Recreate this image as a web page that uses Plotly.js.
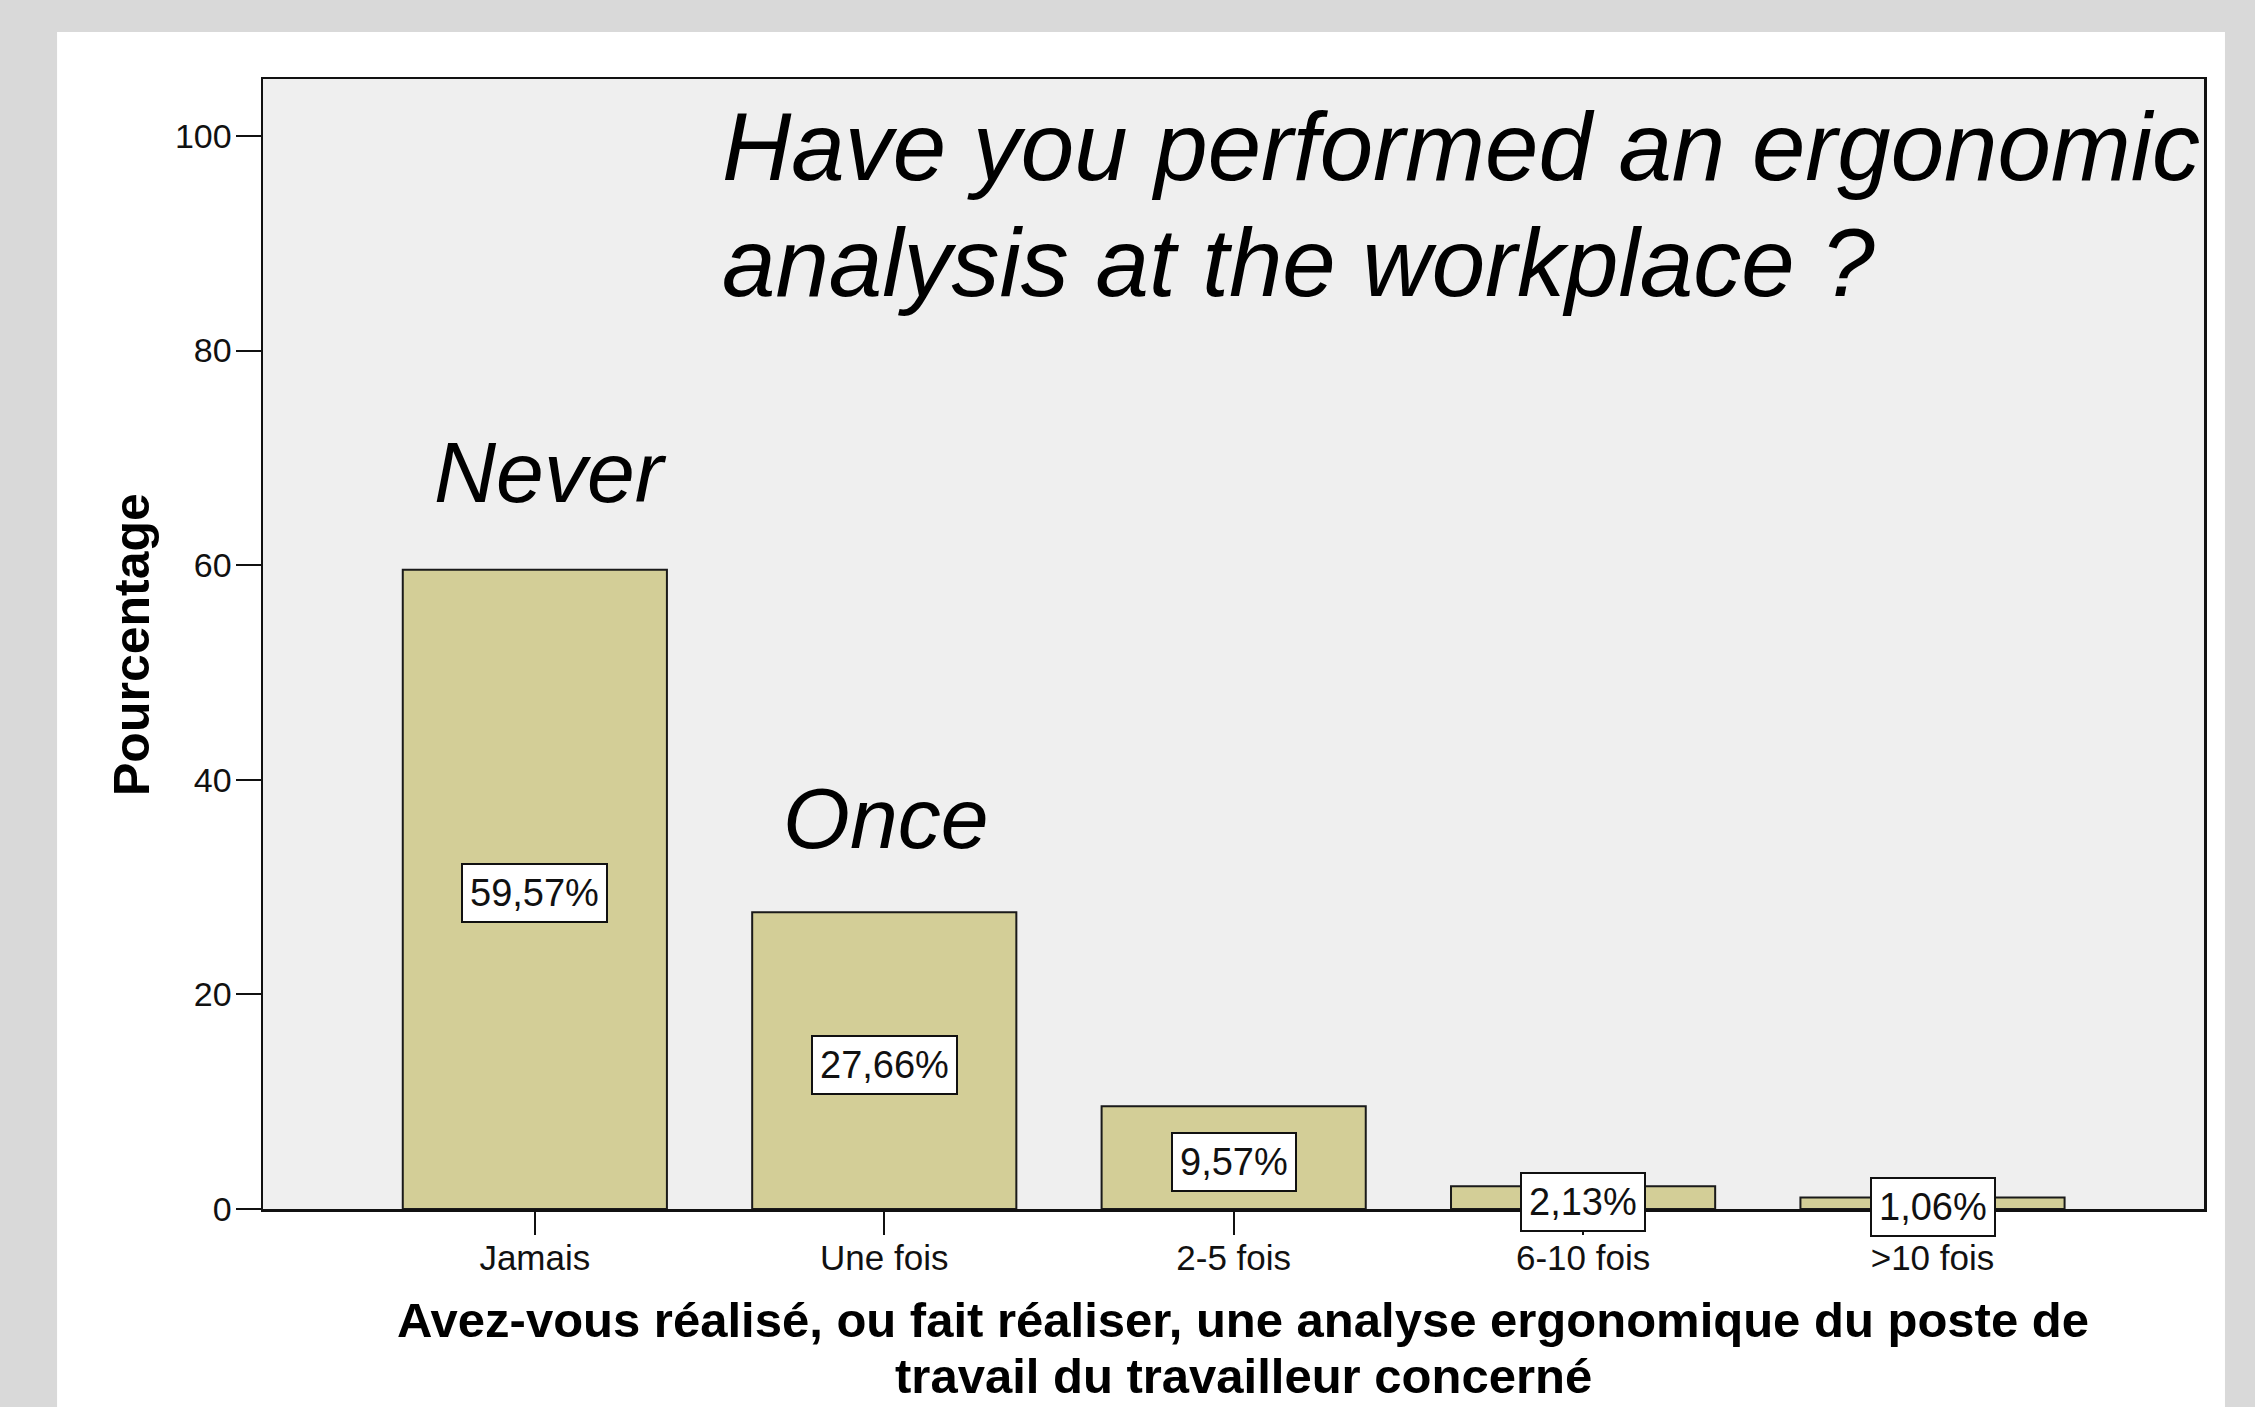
<!DOCTYPE html>
<html>
<head>
<meta charset="utf-8">
<script src="https://cdn.plot.ly/plotly-3.0.1.min.js"></script>
<style>
  html, body { margin: 0; padding: 0; background: #d9d9d9; }
  #chart { width: 2255px; height: 1407px; }
</style>
</head>
<body>
<div id="chart"></div>
<script>
// ---- data ----
const categories = ["Jamais", "Une fois", "2-5 fois", "6-10 fois", ">10 fois"];
const percentages = [59.57, 27.66, 9.57, 2.13, 1.06];
const yTickValues = [0, 20, 40, 60, 80, 100];
const titleLines = ["Have you performed an ergonomic", "analysis at the workplace ?"];
const callouts = ["Never", "Once"];
const xTitleLines = ["Avez-vous réalisé, ou fait réaliser, une analyse ergonomique du poste de",
                     "travail du travailleur concerné"];
const yTitle = "Pourcentage";

const FONT = '"Liberation Sans", Arial, Helvetica, sans-serif';

const valueLabels = percentages.map((v, i) => ({
  x: categories[i], y: v / 2, xref: 'x', yref: 'y', yshift: -4,
  text: v.toFixed(2).replace('.', ',') + '%',
  showarrow: false,
  bgcolor: '#ffffff', bordercolor: '#111111', borderwidth: 2, borderpad: 7,
  font: { family: FONT, size: 38, color: '#111111' }
}));

const textAnnotations = [
  { text: titleLines[0], x: 0.2354, y: 0.9403, xanchor: 'left', yanchor: 'middle',
    font: { family: FONT, size: 96, style: 'italic', color: '#000' } },
  { text: titleLines[1], x: 0.2354, y: 0.8376, xanchor: 'left', yanchor: 'middle',
    font: { family: FONT, size: 96, style: 'italic', color: '#000' } },
  { text: callouts[0], x: 0.0871, y: 0.6518, xanchor: 'left', yanchor: 'middle',
    font: { family: FONT, size: 86, style: 'italic', color: '#000' } },
  { text: callouts[1], x: 0.2669, y: 0.346, xanchor: 'left', yanchor: 'middle',
    font: { family: FONT, size: 86, style: 'italic', color: '#000' } },
  { text: xTitleLines[0], x: 0.5049, y: -0.0978, xanchor: 'center', yanchor: 'middle',
    font: { family: FONT, size: 49, weight: 'bold', color: '#000' } },
  { text: xTitleLines[1], x: 0.5049, y: -0.1482, xanchor: 'center', yanchor: 'middle',
    font: { family: FONT, size: 49, weight: 'bold', color: '#000' } },
  { text: yTitle, x: -0.0675, y: 0.5, xanchor: 'center', yanchor: 'middle', textangle: -90,
    font: { family: FONT, size: 50, weight: 'bold', color: '#000' } }
].map(a => Object.assign({ xref: 'paper', yref: 'paper', showarrow: false }, a));

const trace = {
  type: 'bar',
  x: categories,
  y: percentages,
  width: 0.756,
  marker: { color: '#d3ce97', line: { color: '#1a1a1a', width: 2 } },
  hoverinfo: 'x+y'
};

const layout = {
  width: 2255, height: 1407,
  margin: { l: 263, r: 51, t: 79, b: 198, pad: 0 },
  paper_bgcolor: '#d9d9d9',
  plot_bgcolor: 'rgba(0,0,0,0)',
  showlegend: false,
  font: { family: FONT, color: '#111' },
  shapes: [
    { type: 'rect', xref: 'paper', yref: 'paper', x0: -0.1061, x1: 1.0108, y0: -0.2, y1: 1.0416,
      fillcolor: '#ffffff', line: { width: 0 }, layer: 'below' },
    { type: 'rect', xref: 'paper', yref: 'paper', x0: 0, x1: 1, y0: 0, y1: 1,
      fillcolor: '#efefef', line: { width: 0 }, layer: 'below' }
  ],
  xaxis: {
    type: 'category',
    range: [-0.778, 4.777],
    showgrid: false, zeroline: false,
    showline: true, mirror: true, linecolor: '#111', linewidth: 2.5,
    ticks: 'outside', ticklen: 23, tickwidth: 2, tickcolor: '#111',
    ticklabelstandoff: -7,
    tickfont: { family: FONT, size: 35, color: '#111' }
  },
  yaxis: {
    range: [0, 105.3],
    tickvals: yTickValues,
    showgrid: false, zeroline: false,
    showline: true, mirror: true, linecolor: '#111', linewidth: 2.5,
    ticks: 'outside', ticklen: 25, tickwidth: 2, tickcolor: '#111',
    ticklabelstandoff: -3,
    tickfont: { family: FONT, size: 34, color: '#111' }
  },
  annotations: valueLabels.concat(textAnnotations)
};

Plotly.newPlot('chart', [trace], layout, { displayModeBar: false, staticPlot: true });
</script>
</body>
</html>
